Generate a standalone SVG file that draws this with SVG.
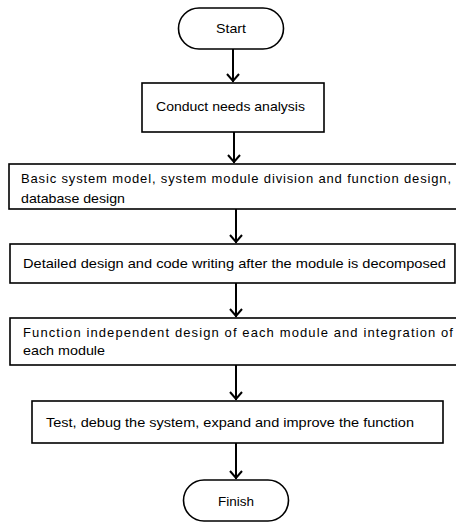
<svg xmlns="http://www.w3.org/2000/svg" width="456" height="523" viewBox="0 0 456 523">
<style>
.box{fill:#fff;stroke:#000;stroke-width:1.6}
.t{font-family:"Liberation Sans",Arial,sans-serif;font-size:13px;fill:#000}
.c{text-anchor:middle}
.conn line{stroke:#000;stroke-width:2}
.conn path{fill:none;stroke:#000;stroke-width:2}
</style>
<rect width="456" height="523" fill="#fff"/>
<g class="conn" id="connectors">
<line x1="233" y1="49" x2="233" y2="82"/><path d="M227,74 L233,81 L239,74"/>
<line x1="234" y1="132" x2="234" y2="163"/><path d="M228,155 L234,162 L240,155"/>
<line x1="236" y1="209" x2="236" y2="243"/><path d="M230,235 L236,242 L242,235"/>
<line x1="236" y1="283" x2="236" y2="317"/><path d="M230,309 L236,316 L242,309"/>
<line x1="236" y1="365" x2="236" y2="400"/><path d="M230,392 L236,399 L242,392"/>
<line x1="236" y1="443" x2="236" y2="479"/><path d="M230,471 L236,478 L242,471"/>
</g>
<g id="start">
<rect class="box" x="178.5" y="8" width="105" height="41" rx="20.5"/>
<text class="t c" x="231" y="33" textLength="30" lengthAdjust="spacingAndGlyphs">Start</text>
</g>
<g id="analysis">
<rect class="box" x="142" y="83" width="182" height="49"/>
<text class="t" x="156" y="111" textLength="149" lengthAdjust="spacingAndGlyphs">Conduct needs analysis</text>
</g>
<g id="basic">
<rect class="box" x="9" y="164" width="452" height="45"/>
<text class="t" x="21" y="183" textLength="430" lengthAdjust="spacing">Basic system model, system module division and function design,</text>
<text class="t" x="21" y="203" textLength="104" lengthAdjust="spacingAndGlyphs">database design</text>
</g>
<g id="detailed">
<rect class="box" x="10" y="244" width="445" height="39"/>
<text class="t" x="23" y="268" textLength="423" lengthAdjust="spacingAndGlyphs">Detailed design and code writing after the module is decomposed</text>
</g>
<g id="function">
<rect class="box" x="10" y="318" width="452" height="47"/>
<text class="t" x="23" y="337" textLength="430" lengthAdjust="spacing">Function independent design of each module and integration of</text>
<text class="t" x="23" y="355" textLength="82" lengthAdjust="spacingAndGlyphs">each module</text>
</g>
<g id="test">
<rect class="box" x="32" y="401" width="411" height="42"/>
<text class="t" x="46" y="427" textLength="368" lengthAdjust="spacingAndGlyphs">Test, debug the system, expand and improve the function</text>
</g>
<g id="finish">
<rect class="box" x="183.5" y="480" width="105" height="41" rx="20.5"/>
<text class="t c" x="236" y="506" textLength="36" lengthAdjust="spacingAndGlyphs">Finish</text>
</g>
</svg>
